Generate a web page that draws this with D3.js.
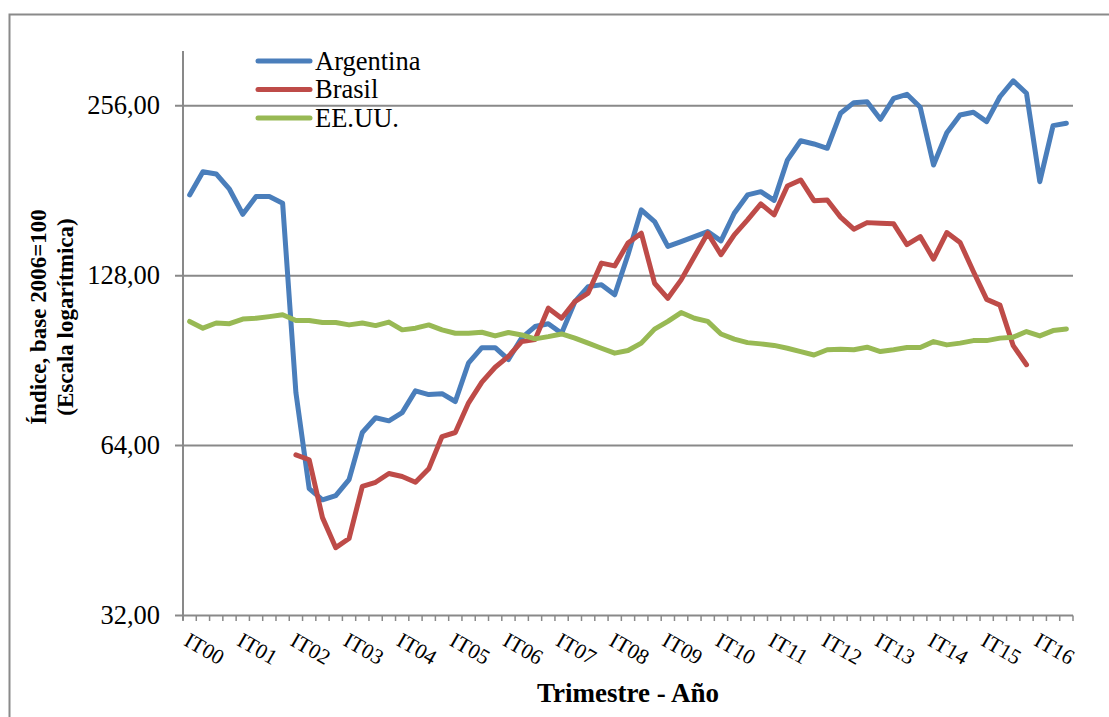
<!DOCTYPE html>
<html>
<head>
<meta charset="utf-8">
<script src="https://cdn.jsdelivr.net/npm/d3@7"></script>
<style>
  body { margin: 0; background: #fff; }
  svg { display: block; font-family: "Liberation Serif", "Times New Roman", serif; }
</style>
</head>
<body>
<div id="chart"></div>
<script>
// quarters IT00 .. IIIT16
var years = ["00","01","02","03","04","05","06","07","08","09","10","11","12","13","14","15","16"];
var quarterNames = ["I","II","III","IV"];
var quarters = [];
years.forEach(function(y) {
  quarterNames.forEach(function(q) { quarters.push(q + "T" + y); });
});
quarters = quarters.slice(0, 67);

var yTicks = [32, 64, 128, 256];

var argentina = [177.9,195.6,193.8,182.1,164.4,176.7,176.7,172.0,
  79.4,53.7,51.3,52.2,55.7,67.5,71.7,70.8,73.2,80.0,78.8,79.1,
  76.6,89.7,95.4,95.4,90.9,99.3,104.0,105.2,101.2,115.1,122.4,123.3,
  118.4,139.4,167.4,159.6,144.2,147.1,150.1,153.2,147.5,165.1,177.9,180.3,
  174.0,205.1,221.9,219.0,215.2,248.2,259.2,260.2,242.2,263.8,268.2,254.3,
  201.0,229.3,246.5,249.2,239.9,265.5,283.4,269.3,187.8,236.0,238.3];

var brasil = [null,null,null,null,null,null,null,null,
  61.6,60.4,47.7,42.2,43.8,54.2,55.1,57.1,56.4,55.1,58.2,66.4,
  67.5,76.2,82.9,88.1,92.1,97.8,98.6,112.1,107.6,115.1,119.2,134.7,
  133.2,146.2,152.2,124.1,116.7,125.8,138.4,152.2,139.4,151.2,160.7,171.5,
  164.0,184.5,189.1,173.8,174.3,162.5,154.7,158.9,158.5,158.1,145.2,150.1,
  136.9,152.6,146.5,130.2,116.2,113.5,96.2,89.0,null,null,null];

var eeuu = [106.2,103.3,105.5,105.2,107.2,107.6,108.3,109.1,
  106.6,106.6,105.7,105.7,104.7,105.5,104.4,105.9,102.6,103.3,104.7,102.6,
  101.2,101.2,101.6,100.1,101.5,100.5,98.9,99.8,100.9,99.2,97.2,95.2,
  93.3,94.3,97.2,102.9,106.2,110.1,107.6,106.2,100.9,98.8,97.4,96.9,
  96.3,95.2,93.9,92.6,94.6,94.8,94.6,95.6,93.9,94.6,95.5,95.5,
  97.8,96.5,97.2,98.2,98.2,99.2,99.6,101.9,100.1,102.3,103.0];

var series = [
  {name: "Argentina", values: argentina, color: "#4A7EBB"},
  {name: "Brasil", values: brasil, color: "#BE4B48"},
  {name: "EE.UU.", values: eeuu, color: "#98B954"}
];

var W = 1109, H = 717;
var plot = {left: 183, right: 1073, top: 51, bottom: 615.5};
var gridColor = "#898989";

var svg = d3.select("#chart").append("svg")
  .attr("width", W)
  .attr("height", H);

// outer chart border
svg.append("rect")
  .attr("x", 9.5).attr("y", 14.5)
  .attr("width", 1200).attr("height", 800)
  .attr("fill", "none")
  .attr("stroke", "#8a8a8a")
  .attr("stroke-width", 2);

var x = d3.scaleBand()
  .domain(quarters)
  .range([plot.left, plot.right]);

var y = d3.scaleLog().base(2)
  .domain([32, 320])
  .range([plot.bottom, plot.top]);

var locale = d3.formatLocale({decimal: ",", thousands: ".", grouping: [3], currency: ["", ""]});
var fmt = locale.format(".2f");

// horizontal gridlines + y tick labels
svg.selectAll(".grid")
  .data(yTicks.filter(function(d) { return d > 32; }))
  .enter().append("line")
    .attr("x1", plot.left - 8)
    .attr("x2", plot.right)
    .attr("y1", function(d) { return y(d); })
    .attr("y2", function(d) { return y(d); })
    .attr("stroke", gridColor)
    .attr("stroke-width", 2);

svg.selectAll(".ytick")
  .data(yTicks)
  .enter().append("text")
    .attr("x", 160)
    .attr("y", function(d) { return y(d); })
    .attr("dy", "0.33em")
    .attr("text-anchor", "end")
    .style("font-size", "26.5px")
    .text(function(d) { return fmt(d); });

// y axis line
svg.append("line")
  .attr("x1", plot.left).attr("x2", plot.left)
  .attr("y1", plot.top).attr("y2", plot.bottom + 5)
  .attr("stroke", gridColor).attr("stroke-width", 2);

// x axis line + ticks at category boundaries
svg.append("line")
  .attr("x1", plot.left - 8).attr("x2", plot.right)
  .attr("y1", plot.bottom).attr("y2", plot.bottom)
  .attr("stroke", gridColor).attr("stroke-width", 2);

var tickXs = quarters.map(function(q) { return x(q); }).concat([plot.right]);
svg.selectAll(".xtick")
  .data(tickXs)
  .enter().append("line")
    .attr("x1", function(d) { return d; })
    .attr("x2", function(d) { return d; })
    .attr("y1", plot.bottom)
    .attr("y2", plot.bottom + 5.5)
    .attr("stroke", gridColor)
    .attr("stroke-width", 1.5);

// x labels, only first quarter of each year
svg.selectAll(".xlabel")
  .data(quarters.filter(function(q) { return q.indexOf("IT") === 0; }))
  .enter().append("text")
    .attr("transform", function(d) {
      return "translate(" + (x(d) + x.bandwidth() / 2 - 7) + "," + (plot.bottom + 29) + ")rotate(30)";
    })
    .attr("text-anchor", "start")
    .style("font-size", "21.5px")
    .text(function(d) { return d; });

// axis titles
svg.append("text")
  .attr("x", 628)
  .attr("y", 702)
  .attr("text-anchor", "middle")
  .style("font-size", "27px")
  .style("font-weight", "bold")
  .text("Trimestre - Año");

var yTitle = svg.append("text")
  .attr("transform", "translate(46,317)rotate(-90)")
  .attr("text-anchor", "middle")
  .style("font-size", "23px")
  .style("font-weight", "bold");
yTitle.append("tspan").attr("x", 0).attr("y", 0).text("Índice, base 2006=100");
yTitle.append("tspan").attr("x", 0).attr("y", 27).text("(Escala logarítmica)");

// lines
var line = d3.line()
  .defined(function(d) { return d != null; })
  .x(function(d, i) { return x(quarters[i]) + x.bandwidth() / 2; })
  .y(function(d) { return y(d); });

svg.selectAll(".series")
  .data(series)
  .enter().append("path")
    .attr("d", function(s) { return line(s.values); })
    .attr("fill", "none")
    .attr("stroke", function(s) { return s.color; })
    .attr("stroke-width", 5)
    .attr("stroke-linejoin", "round")
    .attr("stroke-linecap", "round");

// legend
var legend = svg.selectAll(".legend")
  .data(series)
  .enter().append("g")
    .attr("transform", function(s, i) { return "translate(258," + (61 + i * 28.5) + ")"; });

legend.append("line")
  .attr("x1", 0).attr("x2", 52)
  .attr("stroke", function(s) { return s.color; })
  .attr("stroke-width", 5)
  .attr("stroke-linecap", "round");

legend.append("text")
  .attr("x", 57)
  .attr("dy", "0.33em")
  .style("font-size", "26.5px")
  .text(function(s) { return s.name; });
</script>
</body>
</html>
